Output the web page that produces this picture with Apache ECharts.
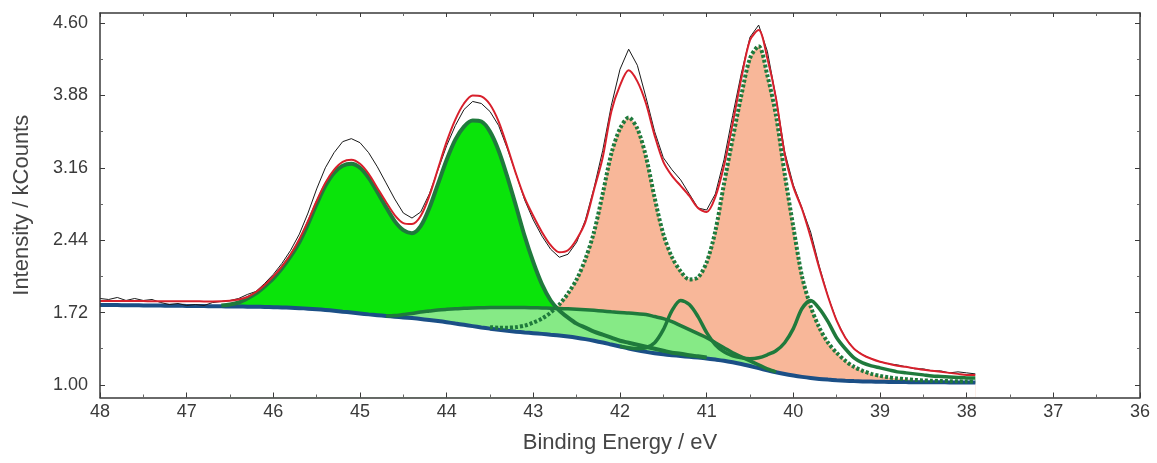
<!DOCTYPE html>
<html>
<head>
<meta charset="utf-8">
<script src="https://cdn.jsdelivr.net/npm/echarts@6/dist/echarts.min.js"></script>
<style>
  html, body { margin: 0; padding: 0; background: #fff; }
  #chart { width: 1157px; height: 463px; }
</style>
</head>
<body>
<div id="chart"></div>
<script>
// Binding energy grid (eV), 0.1 eV steps
const energy = [
  48.0,47.9,47.8,47.7,47.6,47.5,47.4,47.3,47.2,47.1,
  47.0,46.9,46.8,46.7,46.6,46.5,46.4,46.3,46.2,46.1,
  46.0,45.9,45.8,45.7,45.6,45.5,45.4,45.3,45.2,45.1,
  45.0,44.9,44.8,44.7,44.6,44.5,44.4,44.3,44.2,44.1,
  44.0,43.9,43.8,43.7,43.6,43.5,43.4,43.3,43.2,43.1,
  43.0,42.9,42.8,42.7,42.6,42.5,42.4,42.3,42.2,42.1,
  42.0,41.9,41.8,41.7,41.6,41.5,41.4,41.3,41.2,41.1,
  41.0,40.9,40.8,40.7,40.6,40.5,40.4,40.3,40.2,40.1,
  40.0,39.9,39.8,39.7,39.6,39.5,39.4,39.3,39.2,39.1,
  39.0,38.9,38.8,38.7,38.6,38.5,38.4,38.3,38.2,38.1,
  38.0,37.9
];

// Measured counts (kCounts)
const rawCounts = [
  1.86,1.85,1.87,1.84,1.86,1.84,1.85,1.82,1.80,1.81,
  1.79,1.80,1.79,1.82,1.83,1.84,1.86,1.90,1.93,2.01,
  2.10,2.21,2.34,2.50,2.71,2.95,3.16,3.31,3.42,3.45,
  3.41,3.31,3.17,3.01,2.85,2.71,2.66,2.72,2.90,3.14,
  3.38,3.58,3.74,3.82,3.80,3.72,3.58,3.35,3.10,2.84,
  2.64,2.48,2.35,2.27,2.30,2.42,2.64,2.96,3.33,3.78,
  4.14,4.34,4.18,3.86,3.52,3.26,3.14,3.04,2.90,2.76,
  2.74,2.90,3.24,3.68,4.10,4.46,4.58,4.32,3.86,3.32,
  2.99,2.76,2.52,2.18,1.88,1.64,1.47,1.36,1.30,1.26,
  1.23,1.21,1.20,1.18,1.16,1.16,1.14,1.14,1.12,1.13,
  1.12,1.11
];

// Fit envelope
const envelope = [
  1.835,1.835,1.835,1.834,1.834,1.834,1.833,1.833,1.833,1.832,
  1.832,1.832,1.831,1.831,1.832,1.838,1.850,1.875,1.925,1.995,
  2.08,2.18,2.30,2.45,2.63,2.83,3.01,3.14,3.22,3.24,
  3.20,3.10,2.96,2.82,2.69,2.61,2.60,2.68,2.88,3.15,
  3.42,3.64,3.80,3.88,3.87,3.79,3.62,3.37,3.10,2.86,
  2.68,2.52,2.39,2.32,2.34,2.45,2.62,2.94,3.26,3.72,
  3.98,4.13,4.02,3.80,3.48,3.22,3.08,2.98,2.88,2.76,
  2.72,2.87,3.18,3.60,4.05,4.43,4.53,4.25,3.85,3.30,
  2.97,2.75,2.47,2.16,1.88,1.64,1.47,1.36,1.30,1.26,
  1.23,1.21,1.19,1.18,1.165,1.15,1.14,1.13,1.12,1.11,
  1.10,1.10
];

// Shirley background
const background = [
  1.795,1.795,1.794,1.793,1.792,1.791,1.790,1.789,1.788,1.787,
  1.786,1.785,1.784,1.783,1.782,1.781,1.780,1.779,1.778,1.776,
  1.774,1.771,1.768,1.764,1.759,1.753,1.746,1.738,1.729,1.720,
  1.711,1.702,1.694,1.686,1.679,1.672,1.665,1.657,1.647,1.636,
  1.624,1.611,1.598,1.585,1.572,1.560,1.549,1.539,1.530,1.522,
  1.515,1.508,1.500,1.492,1.482,1.470,1.456,1.440,1.422,1.402,
  1.382,1.362,1.344,1.329,1.316,1.305,1.296,1.288,1.280,1.272,
  1.263,1.252,1.240,1.225,1.208,1.188,1.167,1.146,1.126,1.108,
  1.093,1.080,1.069,1.060,1.053,1.047,1.042,1.038,1.035,1.033,
  1.031,1.030,1.029,1.028,1.027,1.027,1.026,1.026,1.025,1.025,
  1.025,1.025
];

// Component curves (background included), each starting at the energy noted
const greenStart = 46.6;
const greenDoublet = [
  1.79,1.80,1.82,1.86,1.91,1.98,
  2.06,2.16,2.28,2.42,2.60,2.80,2.98,3.11,3.18,3.20,
  3.16,3.06,2.92,2.77,2.63,2.54,2.51,2.58,2.76,3.00,
  3.24,3.44,3.57,3.63,3.62,3.52,3.33,3.07,2.78,2.48,
  2.22,2.00,1.84,1.74,1.67,1.61,1.57,1.53,1.50,1.47,
  1.44,1.42,1.40,1.38,1.36,1.34,1.32,1.31,1.295,1.285,
  1.273
];

const broadStart = 44.7;
const broadComponent = [
  1.686,1.69,1.70,1.71,1.725,1.735,1.745,
  1.752,1.758,1.762,1.766,1.768,1.77,1.77,1.77,1.77,1.77,
  1.768,1.766,1.763,1.76,1.757,1.753,1.748,1.742,1.735,1.727,
  1.72,1.715,1.708,1.70,1.68,1.66,1.63,1.59,1.55,1.51,
  1.47,1.42,1.37,1.32,1.28,1.24,1.20,1.16,1.13
];

const salmonStart = 43.5;
const salmonDoublet = [
  1.575,1.57,1.57,1.575,1.59,
  1.62,1.66,1.72,1.80,1.91,2.05,2.25,2.52,2.90,3.30,
  3.55,3.66,3.55,3.27,2.86,2.50,2.27,2.13,2.05,2.07,
  2.22,2.53,3.00,3.45,3.88,4.25,4.37,4.08,3.68,3.10,
  2.57,2.08,1.78,1.57,1.42,1.32,1.24,1.18,1.14,1.11,
  1.09,1.075,1.065,1.057,1.05,1.045,1.042,1.04,1.038,1.036,
  1.035,1.035
];

const smallStart = 42.0;
const smallDoublet = [
  1.385,1.37,1.36,1.37,1.42,1.55,1.74,1.84,1.80,1.68,
  1.52,1.40,1.33,1.29,1.27,1.26,1.27,1.30,1.34,1.42,
  1.56,1.76,1.84,1.76,1.63,1.47,1.36,1.27,1.22,1.19,
  1.17,1.15,1.13,1.12,1.11,1.10,1.09,1.085,1.08,1.075,
  1.07,1.07
];

// Axis ticks
const xTicks = [48, 47, 46, 45, 44, 43, 42, 41, 40, 39, 38, 37, 36];
const yTicks = [1.00, 1.72, 2.44, 3.16, 3.88, 4.60];
const yMinorTicks = [1.36, 2.08, 2.80, 3.52, 4.24];

function pts(values, startE) {
  const i0 = startE === undefined ? 0 : energy.indexOf(startE);
  return values.map((v, k) => [energy[i0 + k], v]);
}

const FONT = 'Liberation Sans, Arial, sans-serif';
const AXIS_COLOR = '#3a3a3a';
const DARK_GREEN = '#1f7a3c';
const Y_MIN = 0.875, Y_MAX = 4.70;

function fillSeries(name, data, color, z) {
  return {
    name, type: 'line', data, smooth: 0.3, showSymbol: false, silent: true,
    lineStyle: { width: 0 }, areaStyle: { color, opacity: 1, origin: 'start' }, z
  };
}
function lineSeries(name, data, color, width, z, extra) {
  return Object.assign({
    name, type: 'line', data, smooth: 0.3, showSymbol: false, silent: true,
    lineStyle: { color, width }, z
  }, extra || {});
}

const chart = echarts.init(document.getElementById('chart'), null, { renderer: 'canvas' });

chart.setOption({
  animation: false,
  backgroundColor: '#ffffff',
  grid: { left: 100, right: 17, top: 13, bottom: 65.5, containLabel: false },
  xAxis: [
    {
      type: 'value', position: 'bottom', inverse: true, min: 36, max: 48, interval: 1, z: 10,
      name: 'Binding Energy / eV', nameLocation: 'middle', nameGap: 34,
      nameTextStyle: { fontFamily: FONT, fontSize: 22, color: '#454545' },
      axisLine: { show: true, lineStyle: { color: AXIS_COLOR, width: 1.5 } },
      axisTick: { show: true, inside: true, length: 5, lineStyle: { color: AXIS_COLOR } },
      minorTick: { show: true, splitNumber: 2, length: 3, lineStyle: { color: '#666' } },
      axisLabel: { fontFamily: FONT, fontSize: 18, color: '#3a3a3a', margin: 6,
        customValues: xTicks, formatter: v => String(Math.round(v)) },
      splitLine: { show: false }
    },
    {
      type: 'value', position: 'top', inverse: true, min: 36, max: 48, interval: 1, z: 10,
      axisLine: { show: true, lineStyle: { color: AXIS_COLOR, width: 1.5 } },
      axisTick: { show: true, inside: true, length: 4, lineStyle: { color: AXIS_COLOR } },
      minorTick: { show: true, splitNumber: 2, length: 3, lineStyle: { color: '#666' } },
      axisLabel: { show: false }, splitLine: { show: false }
    }
  ],
  yAxis: [
    {
      type: 'value', position: 'left', min: Y_MIN, max: Y_MAX, z: 10,
      name: 'Intensity / kCounts', nameLocation: 'middle', nameGap: 67, nameRotate: 90,
      nameTextStyle: { fontFamily: FONT, fontSize: 22, color: '#454545' },
      axisLine: { show: true, lineStyle: { color: AXIS_COLOR, width: 1.5 } },
      axisTick: { show: true, inside: true, length: 5, customValues: yTicks, lineStyle: { color: AXIS_COLOR } },
      axisLabel: { fontFamily: FONT, fontSize: 18, color: '#3a3a3a', margin: 12,
        customValues: yTicks, formatter: v => v.toFixed(2) },
      splitLine: { show: false }
    },
    {
      type: 'value', position: 'left', min: Y_MIN, max: Y_MAX, z: 10,
      axisLine: { show: false },
      axisTick: { show: true, inside: true, length: 3, customValues: yMinorTicks, lineStyle: { color: '#666' } },
      axisLabel: { show: false }, splitLine: { show: false }
    },
    {
      type: 'value', position: 'right', min: Y_MIN, max: Y_MAX, z: 10,
      axisLine: { show: true, lineStyle: { color: AXIS_COLOR, width: 1.5 } },
      axisTick: { show: true, inside: true, length: 5, customValues: yTicks, lineStyle: { color: AXIS_COLOR } },
      axisLabel: { show: false }, splitLine: { show: false }
    },
    {
      type: 'value', position: 'right', min: Y_MIN, max: Y_MAX, z: 10,
      axisLine: { show: false },
      axisTick: { show: true, inside: true, length: 3, customValues: yMinorTicks, lineStyle: { color: '#666' } },
      axisLabel: { show: false }, splitLine: { show: false }
    }
  ],
  series: [
    // filled components, painted bottom-up
    fillSeries('Doublet A fill', pts(greenDoublet, greenStart), '#0ae40a', 1),
    fillSeries('Doublet B fill', pts(salmonDoublet, salmonStart), '#f8b799', 2),
    fillSeries('Broad fill', pts(broadComponent, broadStart), '#86ea86', 3),
    // background line, blanking everything beneath it
    {
      name: 'Background', type: 'line', data: pts(background), smooth: 0.3, showSymbol: false, silent: true,
      lineStyle: { color: '#1b4f86', width: 4 }, areaStyle: { color: '#ffffff', opacity: 1, origin: 'start' }, z: 4
    },
    lineSeries('Broad', pts(broadComponent, broadStart), DARK_GREEN, 3.5, 5),
    lineSeries('Doublet C', pts(smallDoublet, smallStart), DARK_GREEN, 3.5, 5),
    lineSeries('Doublet A', pts(greenDoublet, greenStart), DARK_GREEN, 4, 5),
    lineSeries('Doublet B', pts(salmonDoublet, salmonStart), DARK_GREEN, 4, 5,
      { lineStyle: { color: DARK_GREEN, width: 4, type: [3, 2], cap: 'butt' } }),
    lineSeries('Data', pts(rawCounts), '#1a1a1a', 1, 6, { smooth: false }),
    lineSeries('Envelope', pts(envelope), '#d8202c', 2, 7)
  ]
});
</script>
</body>
</html>
